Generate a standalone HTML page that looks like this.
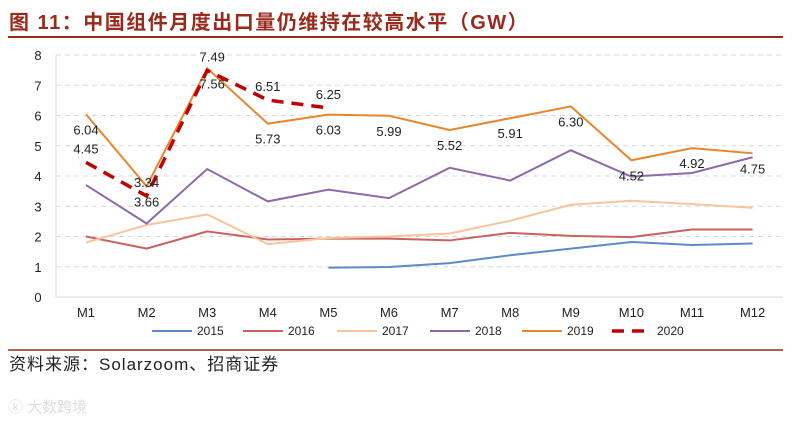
<!DOCTYPE html>
<html><head><meta charset="utf-8"><style>
body{margin:0;width:793px;height:421px;background:#fff;overflow:hidden;font-family:"Liberation Sans","Noto Sans CJK SC",sans-serif}
svg text{font-family:"Liberation Sans","Noto Sans CJK SC",sans-serif}
</style></head><body>
<svg width="793" height="421">
<text x="9" y="29" font-size="20" font-weight="bold" letter-spacing="1.5" fill="#9a2a1c">图 11：中国组件月度出口量仍维持在较高水平（GW）</text>
<line x1="8" y1="37" x2="783" y2="37" stroke="#9a2a1c" stroke-width="2"/>
<g id="plot"></g>
<line x1="8" y1="350" x2="783" y2="350" stroke="#9a2a1c" stroke-width="1.5"/>
<text x="9" y="370" font-size="17" letter-spacing="1" fill="#222">资料来源：Solarzoom、招商证券</text>
<text x="8" y="412" font-size="15" fill="#ddd">ⓚ 大数跨境</text>
</svg>
<script>
const categories=["M1","M2","M3","M4","M5","M6","M7","M8","M9","M10","M11","M12"];
const yTicks=[0,1,2,3,4,5,6,7,8];
const s2015=[null,null,null,null,0.97,0.99,1.12,1.38,1.6,1.82,1.72,1.77];
const s2016=[2.0,1.6,2.17,1.9,1.93,1.93,1.87,2.12,2.02,1.98,2.23,2.23];
const s2017=[1.8,2.38,2.73,1.75,1.95,2.0,2.1,2.52,3.05,3.18,3.07,2.95];
const s2018=[3.7,2.43,4.23,3.16,3.55,3.27,4.27,3.85,4.85,3.98,4.1,4.62];
const s2019=[6.04,3.66,7.56,5.73,6.03,5.99,5.52,5.91,6.30,4.52,4.92,4.75];
const s2020=[4.45,3.34,7.49,6.51,6.25];
const seriesNames=["2015","2016","2017","2018","2019","2020"];
const NS="http://www.w3.org/2000/svg";
const g=document.getElementById('plot');
const X=i=>86+i*60.6;
const Y=v=>297-v*30.25;
function mk(t,a,txt){const e=document.createElementNS(NS,t);for(const k in a)e.setAttribute(k,a[k]);if(txt!=null)e.textContent=txt;g.appendChild(e);return e;}
yTicks.forEach(v=>{
 if(v>0){const l=mk('line',{x1:56,x2:783,y1:Y(v),y2:Y(v),stroke:'#d9d9d9','stroke-dasharray':'5,4'});
 
 }
 const t=mk('text',{x:38,y:Y(v)+5,'font-size':13,'text-anchor':'middle',fill:'#222'},v);
 
 
});
const ax=mk('polyline',{points:'56,55 56,297 783,297',fill:'none',stroke:'#d9d9d9'});


categories.forEach((c,i)=>{const t=mk('text',{x:X(i),y:317,'font-size':13,'text-anchor':'middle',fill:'#222'},c);
 
 });
const colors=["#5b8cc8","#c9625e","#f8c49c","#8d6aa8","#e8862e","#c00000"];
const data=[s2015,s2016,s2017,s2018,s2019,s2020];
data.forEach((s,k)=>{
 const pts=s.map((v,i)=>v==null?null:X(i)+','+Y(v)).filter(p=>p).join(' ');
 const a={points:pts,fill:'none',stroke:colors[k],'stroke-width':k==5?3.5:2};
 if(k==5)a['stroke-dasharray']='12,8';
 const p=mk('polyline',a);
 
 
});
s2019.forEach((v,i)=>{
 const t=mk('text',{x:X(i)+(i==2?5:0),y:Y(v)+20,'font-size':13,'text-anchor':'middle',fill:'#222'},v.toFixed(2));
 
 });
s2020.forEach((v,i)=>{
 const t=mk('text',{x:X(i)+(i==2?5:0),y:Y(v)-9,'font-size':13,'text-anchor':'middle',fill:'#222'},v.toFixed(2));
 
 });
const lx=[152,243,337,430,522,612];
seriesNames.forEach((n,k)=>{
 const a={x1:lx[k],x2:lx[k]+40,y1:331,y2:331,stroke:colors[k],'stroke-width':k==5?3.5:2};
 if(k==5)a['stroke-dasharray']='12,8';
 const l=mk('line',a);
 
 
 const t=mk('text',{x:lx[k]+45,y:335,'font-size':12,fill:'#222'},n);
 
 
});
</script>
</body></html>
